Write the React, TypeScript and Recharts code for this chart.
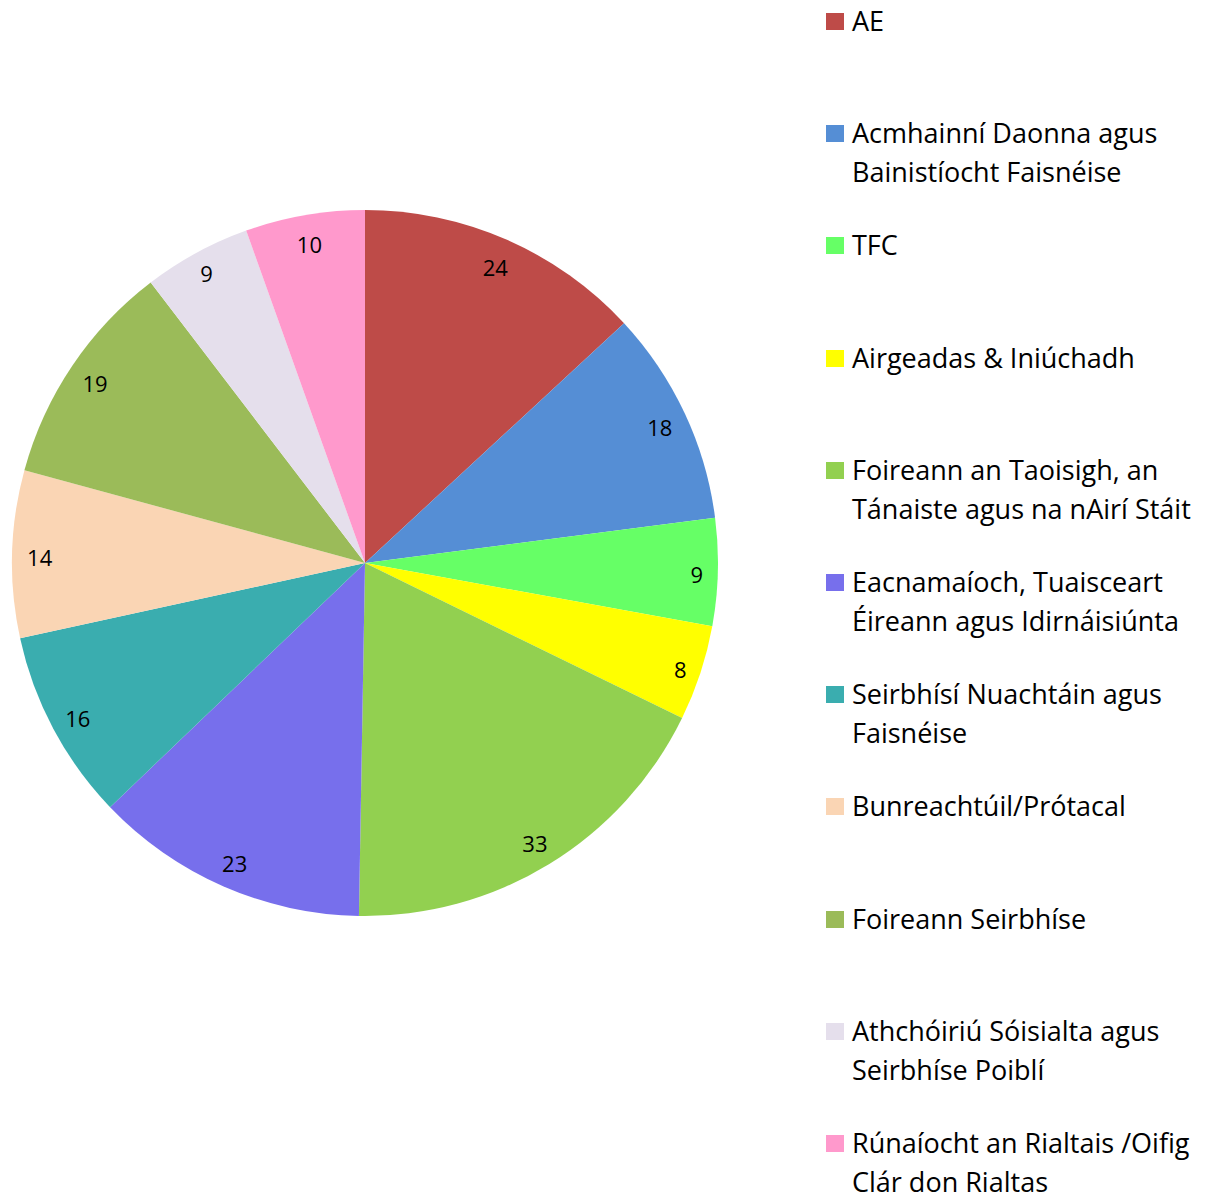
import React from 'react';
import { PieChart, Pie, Cell, Legend } from 'recharts';

document.body.style.margin = '0';

const categories = [
  'AE',
  'Acmhainní Daonna agus Bainistíocht Faisnéise',
  'TFC',
  'Airgeadas & Iniúchadh',
  'Foireann an Taoisigh, an Tánaiste agus na nAirí Stáit',
  'Eacnamaíoch, Tuaisceart Éireann agus Idirnáisiúnta',
  'Seirbhísí Nuachtáin agus Faisnéise',
  'Bunreachtúil/Prótacal',
  'Foireann Seirbhíse',
  'Athchóiriú Sóisialta agus Seirbhíse Poiblí',
  'Rúnaíocht an Rialtais /Oifig Clár don Rialtas',
];

const counts = [24, 18, 9, 8, 33, 23, 16, 14, 19, 9, 10];

const COLORS = [
  '#BE4B48', '#558ED5', '#66FF66', '#FFFF00', '#92D050', '#776FEC',
  '#3AADAF', '#FAD5B4', '#9BBB59', '#E5DFEC', '#FF99CC',
];

const data = categories.map((name, i) => ({ name, value: counts[i] }));

const FONT = '"Open Sans", Lato, sans-serif';
const RAD = Math.PI / 180;

const renderLabel = (props: any) => {
  const { cx, cy, midAngle, outerRadius, value, percent } = props;
  // thin slices get pushed a little further out, like the original
  const r = outerRadius * (percent < 0.05 ? 0.94 : 0.922);
  const x = cx + r * Math.cos(-midAngle * RAD);
  const y = cy + r * Math.sin(-midAngle * RAD) + 2;
  return (
    <text x={x} y={y} fill="#000" fontSize={22} fontFamily={FONT} textAnchor="middle" dominantBaseline="central">
      {value}
    </text>
  );
};

// legend keeps the data order (recharts would sort it by name)
const renderLegend = () => (
  <div style={{ fontFamily: FONT, fontSize: 27, color: '#000' }}>
    {data.map((entry, i) => (
      <div key={i} style={{ height: 112.2, display: 'flex', alignItems: 'flex-start' }}>
        <div style={{ width: 18, height: 17, background: COLORS[i], marginTop: 12, marginRight: 8, flexShrink: 0 }} />
        <div style={{ lineHeight: '39px', width: 362 }}>{entry.name}</div>
      </div>
    ))}
  </div>
);

export default function App() {
  return (
    <PieChart width={1219} height={1193} margin={{ top: 0, right: 0, bottom: 0, left: 0 }}>
      <Pie
        data={data}
        dataKey="value"
        nameKey="name"
        cx={365}
        cy={563}
        outerRadius={353}
        startAngle={90}
        endAngle={-270}
        stroke="none"
        labelLine={false}
        label={renderLabel}
        isAnimationActive={false}
      >
        {data.map((entry, index) => (
          <Cell key={`cell-${index}`} fill={COLORS[index]} />
        ))}
      </Pie>
      <Legend
        layout="vertical"
        align="right"
        verticalAlign="top"
        content={renderLegend}
        wrapperStyle={{ position: 'absolute', left: 826, top: 1, width: 393 }}
      />
    </PieChart>
  );
}
